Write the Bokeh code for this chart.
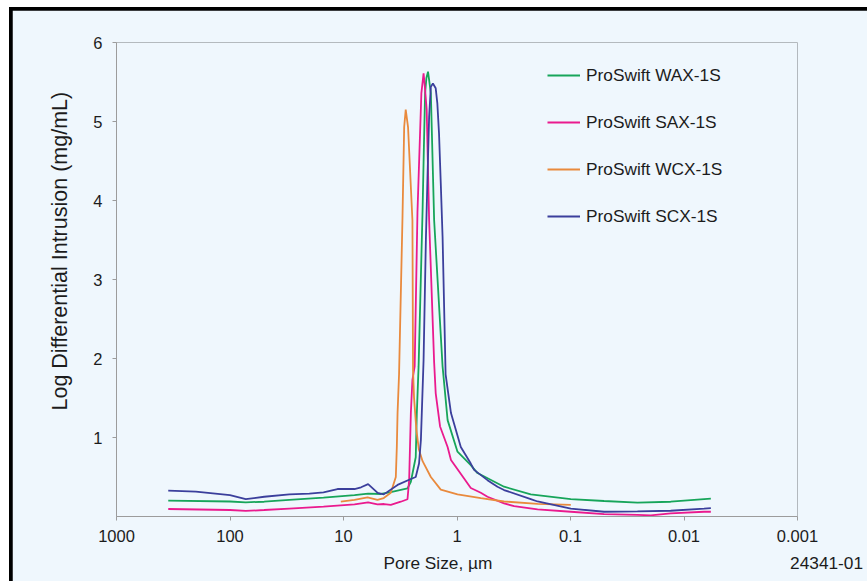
import math
from bokeh.plotting import figure
from bokeh.models import Range1d, FixedTicker, Legend, LegendItem, Title
from bokeh.embed import file_html
from bokeh.resources import INLINE

# ---- data (pore size in µm, log differential intrusion in mg/mL) ----
wax_x = [350, 100, 72.6, 50, 30, 15, 8, 6.07, 4.69, 3.83, 2.73, 2.55, 2.31, 2.26, 2.18,
         2.01, 1.96, 1.91, 1.86, 1.80, 1.70, 1.59, 1.34, 1.21, 0.99, 0.756, 0.66, 0.385,
         0.224, 0.0994, 0.0506, 0.0257, 0.0131, 0.00665, 0.0058]
wax_y = [0.20, 0.19, 0.18, 0.187, 0.21, 0.24, 0.27, 0.29, 0.285, 0.31, 0.357, 0.44, 0.75, 1.30, 1.90,
         3.88, 4.64, 5.36, 5.55, 5.63, 5.36, 3.75, 1.90, 1.22, 0.82, 0.65, 0.55, 0.377,
         0.28, 0.22, 0.196, 0.175, 0.187, 0.22, 0.225]

sax_x = [350, 100, 72.6, 50, 30, 15, 8, 6.07, 5.02, 4.39, 3.83, 3.13, 2.73, 2.64, 2.55,
         2.47, 2.36, 2.23, 2.06, 1.97, 1.92, 1.85, 1.76, 1.59, 1.54, 1.41, 1.21, 1.13, 0.866,
         0.756, 0.617, 0.539, 0.385, 0.314, 0.195, 0.0994, 0.0506, 0.0257, 0.0196, 0.0131,
         0.00665, 0.0058]
sax_y = [0.095, 0.082, 0.07, 0.082, 0.10, 0.124, 0.154, 0.18, 0.154, 0.158, 0.146, 0.187, 0.218, 0.46, 1.31,
         1.73, 1.90, 3.85, 5.36, 5.61, 5.44, 5.15, 3.75, 1.95, 1.56, 1.14, 0.88, 0.715, 0.48,
         0.36, 0.30, 0.25, 0.167, 0.13, 0.09, 0.06, 0.03, 0.02, 0.013, 0.04,
         0.06, 0.06]

wcx_x = [10.56, 8, 6.14, 5.02, 4.42, 3.83, 3.46, 3.39, 3.34, 3.24, 3.02, 2.92, 2.83, 2.70,
         2.47, 2.44, 2.39, 2.28, 2.17, 2.01, 1.70, 1.39, 0.99, 0.617, 0.385, 0.195, 0.0994]
wcx_y = [0.187, 0.21, 0.243, 0.21, 0.234, 0.30, 0.50, 0.88, 1.31, 1.80, 3.80, 4.93, 5.15, 4.93,
         3.75, 1.85, 1.50, 1.10, 0.85, 0.70, 0.50, 0.34, 0.28, 0.232, 0.19, 0.16, 0.146]

scx_x = [350, 200, 100, 72.6, 50, 30, 20, 15, 11.3, 8, 7, 6.07, 5, 4.42, 3.34, 2.55, 2.31,
         2.16, 2.08, 1.97, 1.88, 1.80, 1.76, 1.70, 1.63, 1.54, 1.49, 1.44, 1.39, 1.34, 1.26,
         1.13, 0.926, 0.756, 0.707, 0.539, 0.44, 0.385, 0.224, 0.195, 0.0994, 0.0506, 0.0257,
         0.0131, 0.00665, 0.0058]
scx_y = [0.327, 0.314, 0.27, 0.22, 0.25, 0.28, 0.29, 0.305, 0.348, 0.348, 0.37, 0.41, 0.30, 0.28, 0.40, 0.475, 0.50,
         0.67, 0.97, 1.98, 3.50, 4.55, 5.06, 5.44, 5.48, 5.42, 5.23, 4.85, 4.22, 3.54, 1.80,
         1.31, 0.88, 0.67, 0.59, 0.46, 0.377, 0.335, 0.22, 0.19, 0.10, 0.06, 0.065,
         0.073, 0.10, 0.107]

series_names = ["ProSwift WAX-1S", "ProSwift SAX-1S", "ProSwift WCX-1S", "ProSwift SCX-1S"]
series_colors = ["#17a55a", "#ea1a8e", "#e98a3d", "#3b3f9c"]

x_ticks = [1000, 100, 10, 1, 0.1, 0.01, 0.001]
x_tick_labels = ["1000", "100", "10", "1", "0.1", "0.01", "0.001"]
y_ticks = [1, 2, 3, 4, 5, 6]

x_title = "Pore Size, µm"
y_title = "Log Differential Intrusion (mg/mL)"
figure_id = "24341-01"

FONT = "Liberation Sans, Arial, sans-serif"
BG = "#eff7fd"
AXIS = "#9c9c9c"
TXT = "#1c1c1c"

p = figure(frame_width=681, frame_height=474, x_axis_type="log",
           x_range=Range1d(1000, 0.001), y_range=Range1d(0, 6),
           output_backend="svg", toolbar_location=None,
           min_border_left=104, min_border_right=70, min_border_top=32, min_border_bottom=65)
p.styles = {"border-left": "9px solid white", "border-top": "7px solid white",
            "padding-left": "3px", "padding-top": "3px", "background-color": "black"}
p.background_fill_color = BG
p.border_fill_color = BG
p.outline_line_color = None
p.xgrid.visible = False
p.ygrid.visible = False

for ax in (p.xaxis, p.yaxis):
    ax.axis_line_color = AXIS
    ax.major_tick_line_color = AXIS
    ax.minor_tick_line_color = None
    ax.major_tick_out = 4
    ax.major_tick_in = 0
    ax.major_label_text_font = FONT
    ax.major_label_text_font_size = "16.5px"
    ax.major_label_text_color = TXT

p.xaxis.ticker = FixedTicker(ticks=x_ticks)
p.xaxis.major_label_overrides = {t: s for t, s in zip(x_ticks, x_tick_labels)}
p.xaxis.major_label_standoff = 9
p.yaxis.ticker = FixedTicker(ticks=y_ticks)
p.yaxis.major_label_standoff = 10

xs = [wax_x, sax_x, wcx_x, scx_x]
ys = [wax_y, sax_y, wcx_y, scx_y]
renderers = []
for x, y, c in zip(xs, ys, series_colors):
    r = p.line(x, y, line_color=c, line_width=1.8)
    renderers.append(r)

legend = Legend(items=[LegendItem(label=n, renderers=[r]) for n, r in zip(series_names, renderers)],
                location=(431, 288), orientation="vertical",
                background_fill_alpha=0, border_line_alpha=0,
                padding=0, margin=0, spacing=23, label_height=24, glyph_height=24,
                glyph_width=33, label_standoff=6,
                label_text_font=FONT, label_text_font_size="17.3px", label_text_color=TXT)
p.add_layout(legend)

# y-axis title (left side, reads bottom to top)
p.add_layout(Title(text=y_title, align="left", offset=106, standoff=37,
                   text_font=FONT, text_font_size="21.5px", text_font_style="normal",
                   text_color=TXT), "left")
# x-axis title and figure id share one line below the axis
p.add_layout(Title(text=x_title + "\u00a0" * 62 + figure_id, align="left", offset=267, standoff=12,
                   text_font=FONT, text_font_size="17.3px", text_font_style="normal",
                   text_color=TXT), "below")

open("out.html", "w").write(file_html(p, INLINE))
